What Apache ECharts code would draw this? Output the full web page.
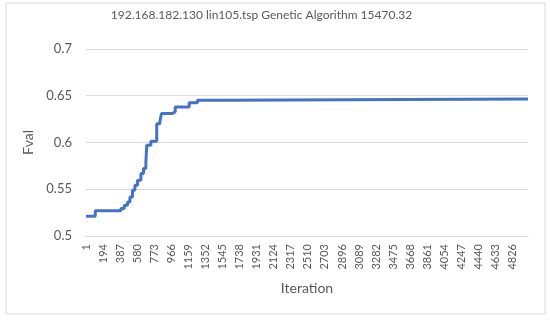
<!DOCTYPE html>
<html>
<head>
<meta charset="utf-8">
<script src="https://cdn.jsdelivr.net/npm/echarts@6/dist/echarts.min.js"></script>
<style>html,body{margin:0;padding:0;background:#fff;}#c{width:550px;height:320px;}</style>
</head>
<body>
<div id="c"></div>
<script>
// Chart data
var titleText = '192.168.182.130 lin105.tsp Genetic Algorithm 15470.32';
var iterationCount = 5000;            // x categories run 1..5000
var stepIterations = [1, 106, 396, 434, 471, 498, 527, 554, 584, 622, 651, 678, 688, 735, 801, 837, 855, 979, 1010, 1168, 1261, 1574, 5000];
var stepValues     = [0.521, 0.527, 0.5293, 0.533, 0.5364, 0.5418, 0.549, 0.5543, 0.5596, 0.5668, 0.5722, 0.579, 0.597, 0.6014, 0.620, 0.6228, 0.631, 0.6328, 0.638, 0.6424, 0.6453, 0.6465, 0.6465];
var yMin = 0.5, yMax = 0.7, yStep = 0.05;
var xLabelEvery = 193;

var categories = [];
for (var i = 1; i <= iterationCount; i++) categories.push(String(i));
var seriesData = stepIterations.map(function (it, k) { return [it - 1, stepValues[k]]; });

var FONT = 'Lato';
var TXT = '#595959';
var chart = echarts.init(document.getElementById('c'), null, {renderer: 'canvas'});
chart.setOption({
  animation: false,
  backgroundColor: '#ffffff',
  textStyle: {fontFamily: FONT},
  grid: {left: 86, right: 22, top: 49, bottom: 84, containLabel: false},
  graphic: [
    {type: 'rect', shape: {x: 6, y: 3, width: 539, height: 311}, style: {fill: 'none', stroke: '#d9d9d9', lineWidth: 1}, silent: true},
    {type: 'text', x: 261.5, y: 15, style: {text: titleText, fill: TXT, font: '12px ' + FONT, textAlign: 'center', textVerticalAlign: 'middle'}}
  ],
  xAxis: {
    type: 'category',
    data: categories,
    boundaryGap: false,
    name: 'Iteration',
    nameLocation: 'middle',
    nameGap: 45,
    nameTextStyle: {color: TXT, fontSize: 14, fontFamily: FONT},
    axisLine: {show: true, lineStyle: {color: '#d9d9d9'}},
    axisTick: {show: false},
    axisLabel: {interval: xLabelEvery - 1, rotate: 90, color: TXT, fontSize: 11, fontFamily: FONT, margin: 8},
    splitLine: {show: false}
  },
  yAxis: {
    type: 'value',
    min: yMin, max: yMax, interval: yStep,
    name: 'Fval',
    nameLocation: 'middle',
    nameGap: 50,
    nameRotate: 90,
    nameTextStyle: {color: TXT, fontSize: 14, fontFamily: FONT},
    axisLine: {show: false},
    axisTick: {show: false},
    axisLabel: {color: TXT, fontSize: 13, fontFamily: FONT, margin: 14},
    splitLine: {lineStyle: {color: '#d9d9d9', width: 1}}
  },
  series: [{
    type: 'line',
    data: seriesData,
    step: 'end',
    showSymbol: false,
    symbol: 'none',
    lineStyle: {color: '#4472C4', width: 3},
    itemStyle: {color: '#4472C4'}
  }]
});
</script>
</body>
</html>
